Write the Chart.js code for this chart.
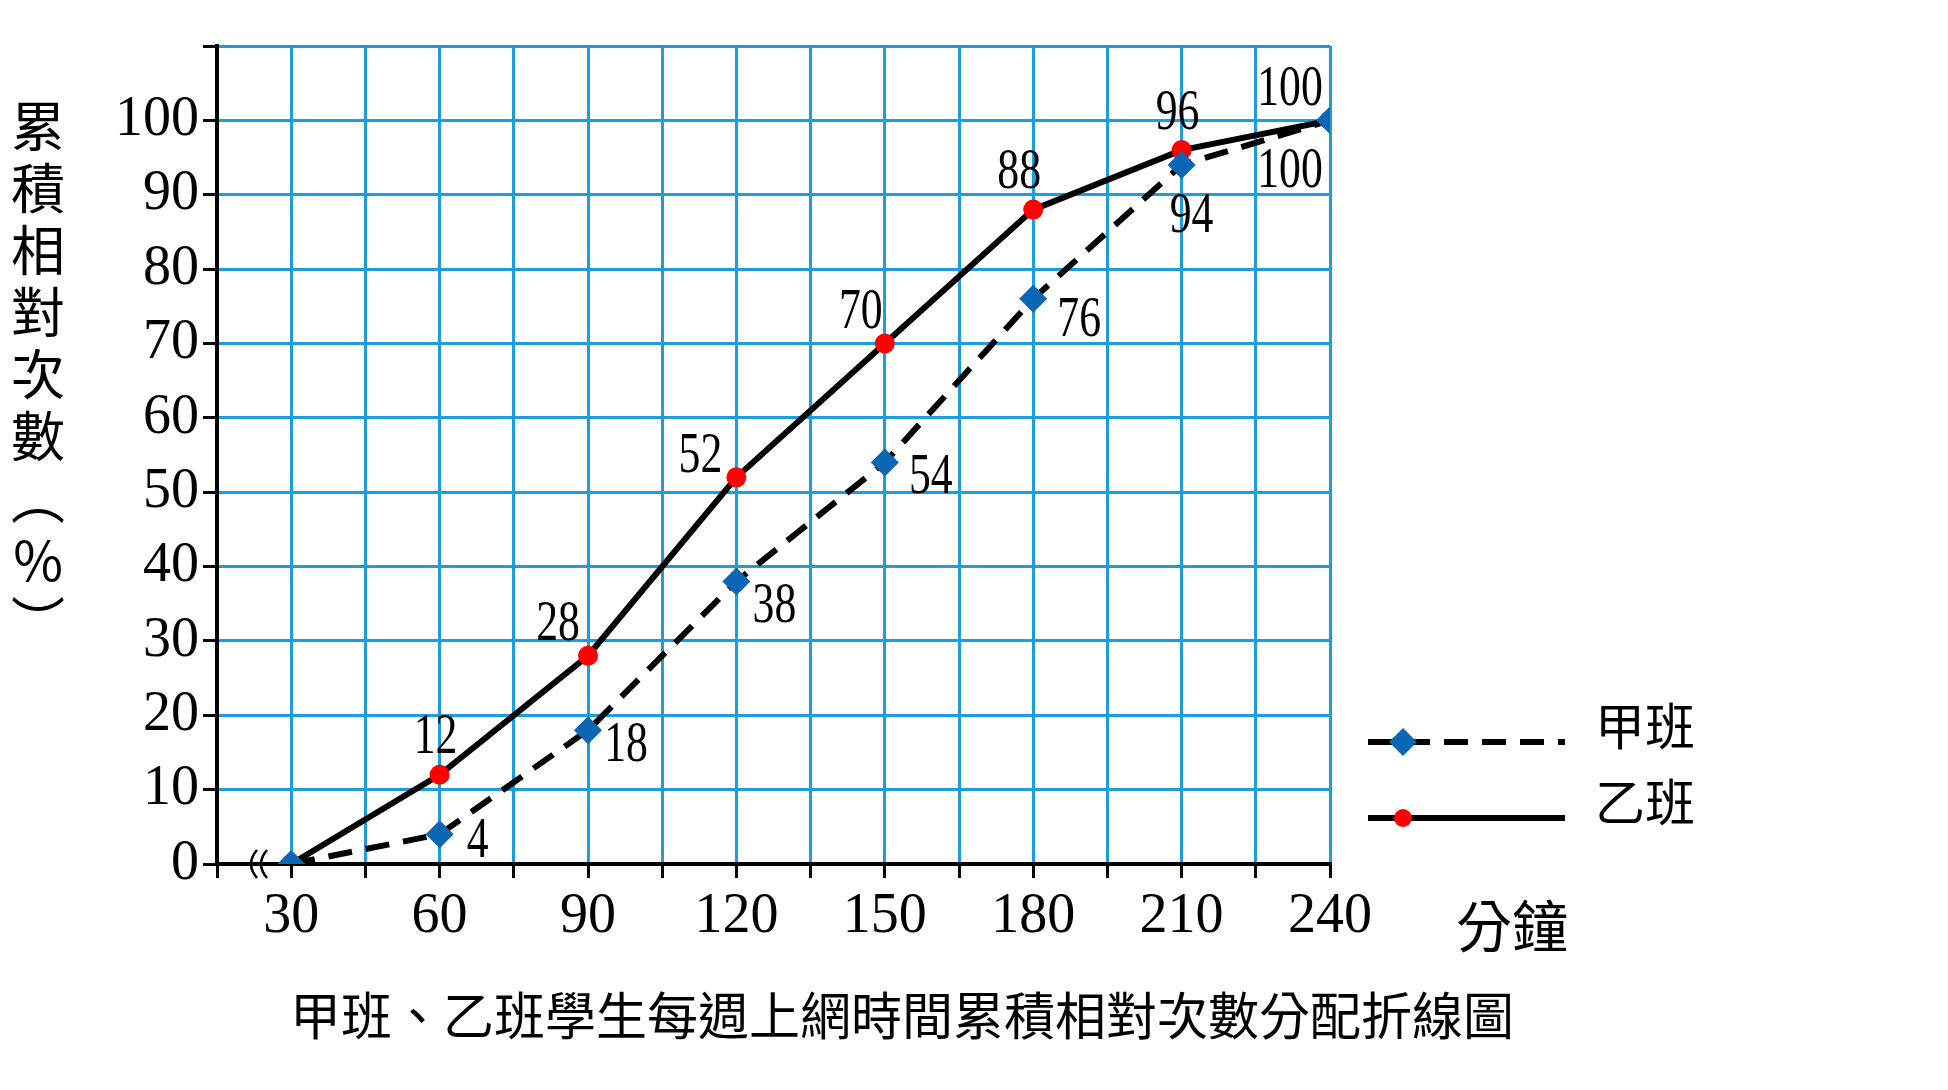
<!DOCTYPE html>
<html>
<head>
<meta charset="utf-8">
<script src="https://cdn.jsdelivr.net/npm/chart.js@4.4.1/dist/chart.umd.min.js"></script>
<style>
  body { margin: 0; background: #fff; }
  #wrap { width: 1948px; height: 1090px; }
</style>
</head>
<body>
<div id="wrap"><canvas id="c" width="1948" height="1090"></canvas></div>
<script>
var minutes = [30, 60, 90, 120, 150, 180, 210, 240];
var classA = [0, 4, 18, 38, 54, 76, 94, 100];   // 甲班
var classB = [0, 12, 28, 52, 70, 88, 96, 100];  // 乙班
var yTicks = [0, 10, 20, 30, 40, 50, 60, 70, 80, 90, 100];

var SERIF = '"Liberation Serif", "DejaVu Serif", serif';
var CJK = '"Noto Sans CJK TC", "Noto Sans CJK SC", sans-serif';
var GRID = '#1a9ee0';

// label offsets (px) for each point
var labA = [null, [38, 8], [38, 16], [38, 26], [46, 16], [46, 22], [10, 52], [-40, 52]];
var labB = [null, [-4, -36], [-30, -30], [-36, -20], [-24, -30], [-14, -36], [-4, -36], [-40, -30]];

function pts(vals) {
  return minutes.map(function (m, i) { return { x: m, y: vals[i] }; });
}

var extras = {
  id: 'extras',
  afterDatasetsDraw: function (chart) {
    var ctx = chart.ctx;
    var xs = chart.scales.x, ys = chart.scales.y;
    ctx.save();
    ctx.fillStyle = '#000';
    ctx.font = '56px ' + SERIF;
    ctx.textAlign = 'center';
    ctx.textBaseline = 'middle';
    function lab(vals, offs) {
      vals.forEach(function (v, i) {
        if (!offs[i]) return;
        var px = xs.getPixelForValue(minutes[i]) + offs[i][0];
        var py = ys.getPixelForValue(v) + offs[i][1];
        ctx.save();
        ctx.translate(px, py);
        ctx.scale(0.78, 1);
        ctx.fillText(String(v), 0, 0);
        ctx.restore();
      });
    }
    lab(classA, labA);
    lab(classB, labB);

    // break mark on x axis
    var bx = chart.chartArea.left + 36, by = ys.getPixelForValue(0);
    ctx.strokeStyle = '#000';
    ctx.lineWidth = 2.5;
    [0, 10].forEach(function (d) {
      ctx.beginPath();
      ctx.moveTo(bx + d + 4, by - 14);
      ctx.quadraticCurveTo(bx + d - 8, by, bx + d + 4, by + 14);
      ctx.stroke();
    });

    // y title (vertical)
    ctx.font = '54px ' + CJK;
    var t = '累積相對次數︵%︶'.split('');
    t.forEach(function (ch, i) {
      ctx.fillText(ch, 38, 126 + i * 62);
    });
    // x title
    ctx.font = '56px ' + CJK;
    ctx.fillText('分鐘', 1512, 926);
    // caption
    ctx.font = '51px ' + CJK;
    ctx.fillText('甲班、乙班學生每週上網時間累積相對次數分配折線圖', 902, 1016);

    // legend
    function leg(y, dash, color, shape, name) {
      ctx.save();
      ctx.strokeStyle = '#000';
      ctx.lineWidth = 6;
      ctx.setLineDash(dash);
      ctx.beginPath(); ctx.moveTo(1368, y); ctx.lineTo(1565, y); ctx.stroke();
      ctx.restore();
      ctx.fillStyle = color;
      ctx.beginPath();
      if (shape === 'd') {
        ctx.moveTo(1403, y - 14); ctx.lineTo(1417, y); ctx.lineTo(1403, y + 14); ctx.lineTo(1389, y);
      } else {
        ctx.arc(1403, y, 9, 0, Math.PI * 2);
      }
      ctx.fill();
      ctx.fillStyle = '#000';
      ctx.font = '50px ' + CJK;
      ctx.fillText(name, 1645, y - 16);
    }
    leg(742, [24, 14], '#0b66b4', 'd', '甲班');
    leg(818, [], '#ff0000', 'c', '乙班');
    ctx.restore();
  }
};

new Chart(document.getElementById('c'), {
  type: 'line',
  data: {
    datasets: [
      {
        label: '甲班', data: pts(classA),
        borderColor: '#000', borderWidth: 6, borderDash: [24, 14],
        pointStyle: 'rectRot', pointRadius: 14, pointBackgroundColor: '#0b66b4',
        pointBorderColor: '#0b66b4', pointBorderWidth: 0
      },
      {
        label: '乙班', data: pts(classB),
        borderColor: '#000', borderWidth: 6,
        pointStyle: 'circle', pointRadius: 10, pointBackgroundColor: '#ff0000',
        pointBorderColor: '#ff0000', pointBorderWidth: 0
      }
    ]
  },
  options: {
    responsive: false,
    animation: false,
    layout: { padding: { top: 46, right: 618, left: 0, bottom: 0 } },
    plugins: { legend: { display: false }, tooltip: { enabled: false } },
    scales: {
      x: {
        type: 'linear', min: 15, max: 240,
        afterFit: function (s) { s.height = 226; },
        afterBuildTicks: function (s) {
          var t = [];
          for (var v = 15; v <= 240; v += 15) t.push({ value: v });
          s.ticks = t;
        },
        ticks: {
          autoSkip: false, maxRotation: 0, padding: 6, color: '#000',
          font: { family: SERIF, size: 56 },
          callback: function (v) { return v % 30 === 0 ? String(v) : ''; }
        },
        grid: { color: GRID, lineWidth: 3, tickLength: 14, tickColor: '#000', drawTicks: true },
        border: { color: '#000', width: 4 }
      },
      y: {
        min: 0, max: 110,
        afterFit: function (s) { s.width = 217; },
        afterBuildTicks: function (s) {
          s.ticks = yTicks.concat([110]).map(function (v) { return { value: v }; });
        },
        ticks: {
          padding: 4, color: '#000',
          font: { family: SERIF, size: 56 },
          callback: function (v) { return v <= 100 ? String(v) : ''; }
        },
        grid: { color: GRID, lineWidth: 3, tickLength: 14, tickColor: '#000' },
        border: { color: '#000', width: 4 }
      }
    }
  },
  plugins: [extras]
});
</script>
</body>
</html>
